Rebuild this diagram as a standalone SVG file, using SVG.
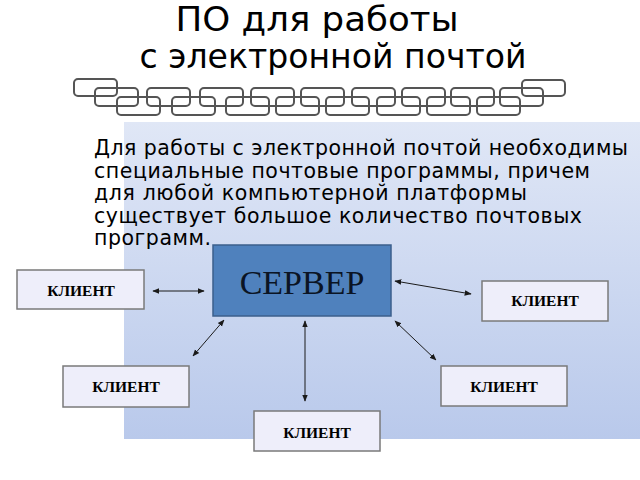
<svg xmlns="http://www.w3.org/2000/svg" width="640" height="480" viewBox="0 0 640 480">
  <defs>
    <linearGradient id="panelGrad" x1="0" y1="0" x2="0" y2="1">
      <stop offset="0" stop-color="#e0e7f6"/>
      <stop offset="1" stop-color="#b9c9eb"/>
    </linearGradient>
    <marker id="arr" viewBox="0 0 10 10" refX="9" refY="5" markerWidth="7" markerHeight="7" markerUnits="userSpaceOnUse" orient="auto-start-reverse">
      <path d="M0,1 L10,5 L0,9 Z" fill="#1a1a1a"/>
    </marker>
  </defs>
  <style>
    .title { font-family: "DejaVu Sans", "Noto Sans", sans-serif; font-size: 33px; fill: #000; text-anchor: middle; }
    .body { font-family: "DejaVu Sans", "Noto Sans", sans-serif; font-size: 20.5px; fill: #000; }
    .link { fill: none; stroke: #555; stroke-width: 2; }
    .client rect { fill: #eeeefa; stroke: #7a7a7a; stroke-width: 1.5; }
    .client text { font-family: "Liberation Serif", "Times New Roman", serif; font-weight: bold; font-size: 15.5px; fill: #000; text-anchor: middle; }
    .server rect { fill: #4f81bd; stroke: #3b5f8c; stroke-width: 1.5; }
    .server text { font-family: "Liberation Serif", "Times New Roman", serif; font-size: 34px; fill: #0b1424; text-anchor: middle; }
    .conn line { stroke: #1a1a1a; stroke-width: 1; marker-start: url(#arr); marker-end: url(#arr); }
  </style>

  <rect x="0" y="0" width="640" height="480" fill="#ffffff"/>

  <!-- background panel -->
  <rect id="panel" x="124" y="122" width="516" height="317" fill="url(#panelGrad)"/>

  <!-- title -->
  <text class="title" x="317" y="31" textLength="283" lengthAdjust="spacingAndGlyphs">ПО для работы</text>
  <text class="title" x="333" y="68" textLength="387" lengthAdjust="spacingAndGlyphs">с электронной почтой</text>

  <!-- decorative chain -->
  <g id="chain">
    <rect class="link" x="74" y="79" width="43" height="17" rx="4"/>
    <rect class="link" x="522" y="80" width="43" height="16" rx="4"/>
    <rect class="link" x="95" y="88" width="43" height="18" rx="4"/>
    <rect class="link" x="147" y="88" width="43" height="18" rx="4"/>
    <rect class="link" x="200" y="88" width="43" height="18" rx="4"/>
    <rect class="link" x="251" y="88" width="43" height="18" rx="4"/>
    <rect class="link" x="301" y="88" width="43" height="18" rx="4"/>
    <rect class="link" x="352" y="88" width="43" height="18" rx="4"/>
    <rect class="link" x="402" y="88" width="43" height="18" rx="4"/>
    <rect class="link" x="451" y="88" width="43" height="18" rx="4"/>
    <rect class="link" x="500" y="88" width="43" height="18" rx="4"/>
    <rect class="link" x="117" y="97" width="43" height="18" rx="4"/>
    <rect class="link" x="172" y="97" width="43" height="18" rx="4"/>
    <rect class="link" x="226" y="97" width="43" height="18" rx="4"/>
    <rect class="link" x="276" y="97" width="43" height="18" rx="4"/>
    <rect class="link" x="326" y="97" width="43" height="18" rx="4"/>
    <rect class="link" x="377" y="97" width="43" height="18" rx="4"/>
    <rect class="link" x="427" y="97" width="43" height="18" rx="4"/>
    <rect class="link" x="477" y="97" width="43" height="18" rx="4"/>
  </g>

  <!-- body text -->
  <g id="bodytext">
    <text class="body" x="94" y="155" textLength="534" lengthAdjust="spacing">Для работы с электронной почтой необходимы</text>
    <text class="body" x="94" y="178" textLength="496" lengthAdjust="spacing">специальные почтовые программы, причем</text>
    <text class="body" x="94" y="200" textLength="433" lengthAdjust="spacing">для любой компьютерной платформы</text>
    <text class="body" x="94" y="223" textLength="488" lengthAdjust="spacing">существует большое количество почтовых</text>
    <text class="body" x="94" y="245" textLength="117" lengthAdjust="spacing">программ.</text>
  </g>

  <!-- connectors -->
  <g id="connectors" class="conn">
    <line x1="153" y1="291" x2="204" y2="291"/>
    <line x1="395" y1="281" x2="471" y2="294"/>
    <line x1="395" y1="321" x2="436" y2="360"/>
    <line x1="224" y1="320" x2="193" y2="356"/>
    <line x1="305" y1="321" x2="305" y2="401"/>
  </g>

  <!-- nodes -->
  <g id="server" class="server">
    <rect x="213" y="245" width="178" height="71"/>
    <text x="302" y="294">СЕРВЕР</text>
  </g>
  <g id="client-left" class="client">
    <rect x="17" y="270" width="127" height="39"/>
    <text x="81" y="296">КЛИЕНТ</text>
  </g>
  <g id="client-right-top" class="client">
    <rect x="482" y="281" width="126" height="40"/>
    <text x="545" y="306">КЛИЕНТ</text>
  </g>
  <g id="client-right-bottom" class="client">
    <rect x="441" y="366" width="126" height="40"/>
    <text x="504" y="392">КЛИЕНТ</text>
  </g>
  <g id="client-left-bottom" class="client">
    <rect x="63" y="366" width="126" height="41"/>
    <text x="126" y="392">КЛИЕНТ</text>
  </g>
  <g id="client-bottom" class="client">
    <rect x="254" y="411" width="126" height="40"/>
    <text x="317" y="438">КЛИЕНТ</text>
  </g>
</svg>
